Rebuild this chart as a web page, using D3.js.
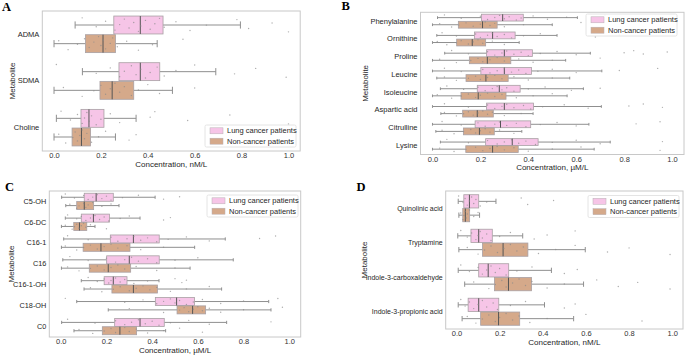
<!DOCTYPE html>
<html>
<head>
<meta charset="utf-8">
<script src="https://cdn.jsdelivr.net/npm/d3@7"></script>
<style>
  body { margin: 0; background: #fff; }
  svg { display: block; }
  text { font-family: "Liberation Sans", Arial, sans-serif; }
</style>
</head>
<body>
<div id="container"></div>
<script>
/* DATA */
// box stats are [whisker low, q1, median, q3, whisker high]
const metabA = ["ADMA", "SDMA", "Choline"];
const lungA = [[0.09, 0.255, 0.368, 0.465, 0.795], [0.121, 0.277, 0.368, 0.451, 0.69], [0.01, 0.115, 0.149, 0.213, 0.35]];
const nonA  = [[0.0, 0.134, 0.209, 0.262, 0.44], [0.0, 0.196, 0.248, 0.34, 0.505], [0.0, 0.077, 0.117, 0.156, 0.262]];
const lungPtsA = [
  [.12,.18,.22,.26,.28,.30,.32,.34,.36,.37,.39,.41,.43,.45,.47,.52,.58,.65,.78,.83,.93,1.0],
  [.01,.18,.24,.28,.30,.33,.35,.37,.39,.41,.44,.47,.52,.60,.77,.86,.99],
  [.03,.07,.10,.12,.13,.14,.15,.16,.18,.20,.24,.28,.41,.43,.57,.75,1.0]];
const nonPtsA = [
  [.02,.06,.10,.13,.15,.17,.19,.20,.21,.22,.24,.25,.27,.31,.36,.42,.55],
  [.04,.12,.17,.20,.22,.24,.26,.28,.30,.33,.36,.40,.45,.60],
  [.02,.05,.08,.09,.10,.11,.12,.13,.14,.16,.19,.22,.32,.35,.88]];

const metabB = ["Phenylalanine", "Ornithine", "Proline", "Leucine", "Isoleucine", "Aspartic acid", "Citrulline", "Lysine"];
const lungB = [[0.021, 0.205, 0.293, 0.379, 0.605], [0.018, 0.175, 0.251, 0.345, 0.52], [0.051, 0.226, 0.3, 0.417, 0.659],
  [0.0, 0.202, 0.3, 0.413, 0.707], [0.033, 0.187, 0.279, 0.366, 0.63], [0.0, 0.226, 0.3, 0.422, 0.705],
  [0.0, 0.178, 0.284, 0.41, 0.653], [0.033, 0.222, 0.333, 0.441, 0.742]];
const nonB = [[0.0, 0.108, 0.209, 0.27, 0.5], [0.0, 0.101, 0.166, 0.222, 0.362], [0.0, 0.154, 0.229, 0.327, 0.556],
  [0.018, 0.14, 0.223, 0.316, 0.573], [0.0, 0.119, 0.191, 0.307, 0.562], [0.035, 0.126, 0.187, 0.254, 0.42],
  [0.014, 0.129, 0.196, 0.258, 0.373], [0.0, 0.139, 0.251, 0.358, 0.675]];
const lungPtsB = [
  [.05,.12,.20,.23,.26,.28,.30,.32,.35,.37,.42,.48,.56,.72],
  [.04,.10,.18,.20,.23,.25,.27,.30,.33,.38,.45,.68,.78],
  [.08,.15,.23,.26,.29,.31,.34,.37,.40,.45,.52,.60,.80,.84,.88,.98],
  [.05,.12,.21,.24,.27,.30,.33,.36,.39,.44,.50,.60,.78,.94],
  [.06,.13,.19,.22,.25,.27,.29,.31,.34,.40,.47,.58,.70],
  [.05,.15,.23,.26,.29,.31,.34,.38,.41,.46,.55,.65,.82,.88,.96],
  [.04,.12,.19,.22,.26,.28,.31,.35,.39,.45,.52,.60,.85,.95],
  [.06,.15,.23,.27,.30,.33,.36,.39,.43,.50,.60,.70,.96]];
const nonPtsB = [
  [.03,.08,.11,.14,.17,.20,.22,.24,.26,.30,.38,.62],
  [.02,.06,.10,.12,.15,.17,.19,.21,.25,.30],
  [.03,.10,.16,.19,.21,.24,.27,.30,.36,.42,.50,.70],
  [.05,.10,.15,.18,.20,.23,.26,.29,.34,.40,.50],
  [.02,.08,.12,.15,.18,.20,.23,.26,.29,.35,.42,.50],
  [.05,.10,.13,.15,.17,.19,.21,.23,.25,.30,.37],
  [.04,.09,.13,.16,.18,.20,.22,.24,.28,.34],
  [.03,.09,.14,.18,.21,.24,.27,.30,.34,.40,.50,.62,.95]];

const metabC = ["C5-OH", "C6-DC", "C16-1", "C16", "C16-1-OH", "C18-OH", "C0"];
const lungC = [[0.004, 0.103, 0.155, 0.23, 0.413], [0.02, 0.09, 0.143, 0.213, 0.347], [0.013, 0.217, 0.318, 0.431, 0.72],
  [0.009, 0.201, 0.3, 0.431, 0.755], [0.09, 0.19, 0.23, 0.29, 0.43], [0.07, 0.414, 0.507, 0.585, 0.91],
  [0.004, 0.236, 0.347, 0.453, 0.726]];
const nonC = [[0.022, 0.07, 0.103, 0.144, 0.255], [0.003, 0.057, 0.082, 0.114, 0.15], [0.003, 0.098, 0.176, 0.303, 0.586],
  [0.003, 0.125, 0.208, 0.306, 0.566], [0.102, 0.224, 0.318, 0.423, 0.704], [0.208, 0.509, 0.577, 0.634, 0.92],
  [0.058, 0.182, 0.259, 0.332, 0.459]];
const lungPtsC = [
  [.02,.06,.10,.12,.14,.16,.18,.20,.22,.27,.34,.45,.52],
  [.03,.07,.09,.11,.13,.15,.17,.19,.21,.26,.30,.45,.48],
  [.03,.12,.22,.25,.29,.32,.35,.38,.42,.47,.55,.65,.87,.94],
  [.04,.12,.20,.24,.28,.31,.34,.38,.42,.50,.60],
  [.12,.16,.19,.21,.22,.24,.26,.28,.32,.38,.50,.53,.55],
  [.02,.28,.36,.42,.45,.48,.50,.52,.55,.58,.62,.70,.80,.95],
  [.03,.15,.24,.28,.31,.34,.37,.40,.43,.48,.56,.65,.92]];
const nonPtsC = [
  [.04,.07,.08,.10,.11,.12,.14,.18,.22],
  [.02,.05,.06,.07,.08,.09,.10,.11,.13,.20],
  [.02,.07,.10,.13,.16,.19,.22,.25,.29,.35,.45],
  [.03,.08,.13,.16,.19,.22,.25,.28,.33,.42,.50],
  [.13,.18,.23,.26,.30,.33,.36,.39,.42,.48,.55,.65],
  [.30,.45,.52,.54,.56,.58,.60,.62,.65,.70,.80,.97],
  [.08,.14,.19,.22,.24,.26,.28,.30,.33,.38,.45,.52,.62]];

const metabD = ["Quinolinic acid", "Tryptamine", "Indole-3-carboxaldehyde", "Indole-3-propionic acid"];
const lungD = [[0.008, 0.034, 0.06, 0.103, 0.183], [0.006, 0.067, 0.103, 0.166, 0.307],
  [0.008, 0.103, 0.147, 0.242, 0.44], [0.008, 0.054, 0.103, 0.196, 0.408]];
const nonD = [[0.011, 0.029, 0.041, 0.061, 0.107], [0.011, 0.121, 0.216, 0.331, 0.597],
  [0.038, 0.176, 0.241, 0.348, 0.589], [0.026, 0.112, 0.195, 0.293, 0.543]];
const lungPtsD = [
  [.01,.03,.04,.05,.06,.07,.08,.09,.11,.14,.30,.33,.45],
  [.02,.05,.07,.09,.10,.11,.12,.14,.16,.20,.25,.36,.42,.55],
  [.02,.06,.10,.12,.14,.16,.18,.20,.23,.28,.35,.50,.56],
  [.02,.04,.06,.08,.10,.12,.14,.17,.19,.25,.32,.50,.55]];
const nonPtsD = [
  [.02,.03,.035,.04,.045,.05,.06,.08,.10],
  [.05,.10,.13,.16,.19,.22,.25,.28,.31,.38,.46,.55,.70,.80,.99],
  [.08,.15,.18,.21,.23,.26,.29,.32,.35,.42,.50,.65,.75,.84,.99],
  [.05,.09,.12,.15,.18,.20,.23,.26,.29,.34,.42,.60,.86]];

const xTicks = [0, 0.2, 0.4, 0.6, 0.8, 1.0];
const groupNames = ["Lung cancer patients", "Non-cancer patients"];
const groupColors = ["#f6c5e7", "#d5a98a"];

/* LAYOUT */
const width = 685, height = 356;
const panels = [
  {letter: "A", unit: "nM/L", cats: metabA, lung: lungA, non: nonA, lungPts: lungPtsA, nonPts: nonPtsA,
   x0: 42.3, x1: 300.2, y0: 11, y1: 151, lx: 2, ly: 11, legX: 205, legY: 125, yTitleX: 12, catSize: 7.5},
  {letter: "B", unit: "\u00b5M/L", cats: metabB, lung: lungB, non: nonB, lungPts: lungPtsB, nonPts: nonPtsB,
   x0: 420.5, x1: 684, y0: 12.3, y1: 154.5, lx: 341.5, ly: 10, legX: 586, legY: 14, yTitleX: 365, catSize: 7.5},
  {letter: "C", unit: "\u00b5M/L", cats: metabC, lung: lungC, non: nonC, lungPts: lungPtsC, nonPts: nonPtsC,
   x0: 49.3, x1: 300.7, y0: 191, y1: 337, lx: 5, ly: 191, legX: 207, legY: 195, yTitleX: 11, catSize: 7.3},
  {letter: "D", unit: "nM/L", cats: metabD, lung: lungD, non: nonD, lungPts: lungPtsD, nonPts: nonPtsD,
   x0: 445.7, x1: 683, y0: 191, y1: 329, lx: 356.5, ly: 191, legX: 588, legY: 195.5, yTitleX: 364, catSize: 7}
];

const svg = d3.select("#container").append("svg")
  .attr("width", width)
  .attr("height", height);

panels.forEach(drawPanel);

function drawPanel(p) {
  const xScale = d3.scaleLinear().domain([-0.05, 1.05]).range([p.x0, p.x1]);
  const yScale = d3.scaleBand().domain(p.cats).range([p.y0, p.y1]);
  const bw = yScale.bandwidth();
  const hueScale = d3.scaleBand().domain([0, 1]).range([-0.4 * bw, 0.4 * bw]);
  const boxH = hueScale.bandwidth() * 0.96;

  const g = svg.append("g");

  // frame
  g.append("rect")
    .attr("x", p.x0).attr("y", p.y0)
    .attr("width", p.x1 - p.x0).attr("height", p.y1 - p.y0)
    .attr("fill", "none")
    .attr("stroke", "#c8c8c8")
    .attr("stroke-width", 1);

  const groups = p.cats.flatMap((c, i) => [
    {cat: c, hue: 0, s: p.lung[i], pts: p.lungPts[i]},
    {cat: c, hue: 1, s: p.non[i], pts: p.nonPts[i]}
  ]);

  groups.forEach(d => {
    const mid = yScale(d.cat) + bw / 2 + hueScale(d.hue) + hueScale.bandwidth() / 2;
    const s = d.s;
    const bg = g.append("g");
    // whiskers
    bg.selectAll("line.whisker")
      .data([[s[0], s[1]], [s[3], s[4]]])
      .join("line")
      .attr("x1", v => xScale(v[0])).attr("x2", v => xScale(v[1]))
      .attr("y1", mid).attr("y2", mid)
      .attr("stroke", "#8f8f8f").attr("stroke-width", 1);
    // caps
    bg.selectAll("line.cap")
      .data([s[0], s[4]])
      .join("line")
      .attr("x1", v => xScale(v)).attr("x2", v => xScale(v))
      .attr("y1", mid - boxH * 0.2).attr("y2", mid + boxH * 0.2)
      .attr("stroke", "#8f8f8f").attr("stroke-width", 1);
    // box
    bg.append("rect")
      .attr("x", xScale(s[1])).attr("y", mid - boxH / 2)
      .attr("width", xScale(s[3]) - xScale(s[1])).attr("height", boxH)
      .attr("fill", groupColors[d.hue])
      .attr("stroke", "#a8a0a4").attr("stroke-width", 0.8);
    // median
    bg.append("line")
      .attr("x1", xScale(s[2])).attr("x2", xScale(s[2]))
      .attr("y1", mid - boxH / 2).attr("y2", mid + boxH / 2)
      .attr("stroke", "#555").attr("stroke-width", 1);
    // strip points
    bg.selectAll("circle")
      .data(d.pts)
      .join("circle")
      .attr("cx", v => xScale(v))
      .attr("cy", (v, i) => mid + (((i * 0.618034 + d.hue * 0.3) % 1) - 0.5) * boxH * 0.8)
      .attr("r", 0.7)
      .attr("fill", "#8a8a8a")
      .attr("opacity", 0.7);
  });

  // category axis
  const yAxis = d3.axisLeft(yScale).tickSize(0).tickPadding(3);
  const ya = g.append("g")
    .attr("transform", `translate(${p.x0},0)`)
    .attr("color", "#262626")
    .call(yAxis);
  ya.select(".domain").remove();
  ya.selectAll("text")
    .attr("font-size", p.catSize + "px")
    .attr("fill", "#262626")
    .style("font-family", "'Liberation Sans', Arial, sans-serif");

  // concentration axis
  const xAxis = d3.axisBottom(xScale).tickValues(xTicks).tickFormat(d3.format(".1f")).tickSize(0).tickPadding(2);
  const xa = g.append("g")
    .attr("transform", `translate(0,${p.y1})`)
    .attr("color", "#333")
    .call(xAxis);
  xa.select(".domain").remove();
  xa.selectAll("text")
    .attr("font-size", "7.5px")
    .attr("fill", "#333")
    .style("font-family", "'Liberation Sans', Arial, sans-serif");

  g.append("text")
    .attr("x", (p.x0 + p.x1) / 2)
    .attr("y", p.y1 + 13)
    .attr("dy", "0.35em")
    .attr("text-anchor", "middle")
    .attr("font-size", "8px")
    .attr("fill", "#262626")
    .text(`Concentration, ${p.unit}`);

  g.append("text")
    .attr("transform", `translate(${p.yTitleX},${(p.y0 + p.y1) / 2}) rotate(-90)`)
    .attr("dy", "0.35em")
    .attr("text-anchor", "middle")
    .attr("font-size", "8px")
    .attr("fill", "#262626")
    .text("Metabolite");

  // panel letter
  g.append("text")
    .attr("x", p.lx).attr("y", p.ly)
    .attr("font-size", "12.5px")
    .attr("font-weight", "bold")
    .attr("fill", "#000")
    .style("font-family", "'Liberation Serif', 'Times New Roman', serif")
    .text(p.letter);

  // legend
  const leg = g.append("g").attr("transform", `translate(${p.legX},${p.legY})`);
  leg.append("rect")
    .attr("width", 91).attr("height", 22)
    .attr("rx", 1.5)
    .attr("fill", "#fff").attr("fill-opacity", 0.85)
    .attr("stroke", "#dddddd").attr("stroke-width", 0.8);
  groupNames.forEach((name, i) => {
    const cy = 5.8 + i * 10.4;
    leg.append("rect")
      .attr("x", 5).attr("y", cy - 3)
      .attr("width", 13).attr("height", 6)
      .attr("fill", groupColors[i])
      .attr("stroke", "#b8b0b4").attr("stroke-width", 0.5);
    leg.append("text")
      .attr("x", 22).attr("y", cy)
      .attr("dy", "0.35em")
      .attr("font-size", "7.5px")
      .attr("fill", "#262626")
      .text(name);
  });
}
</script>
</body>
</html>
